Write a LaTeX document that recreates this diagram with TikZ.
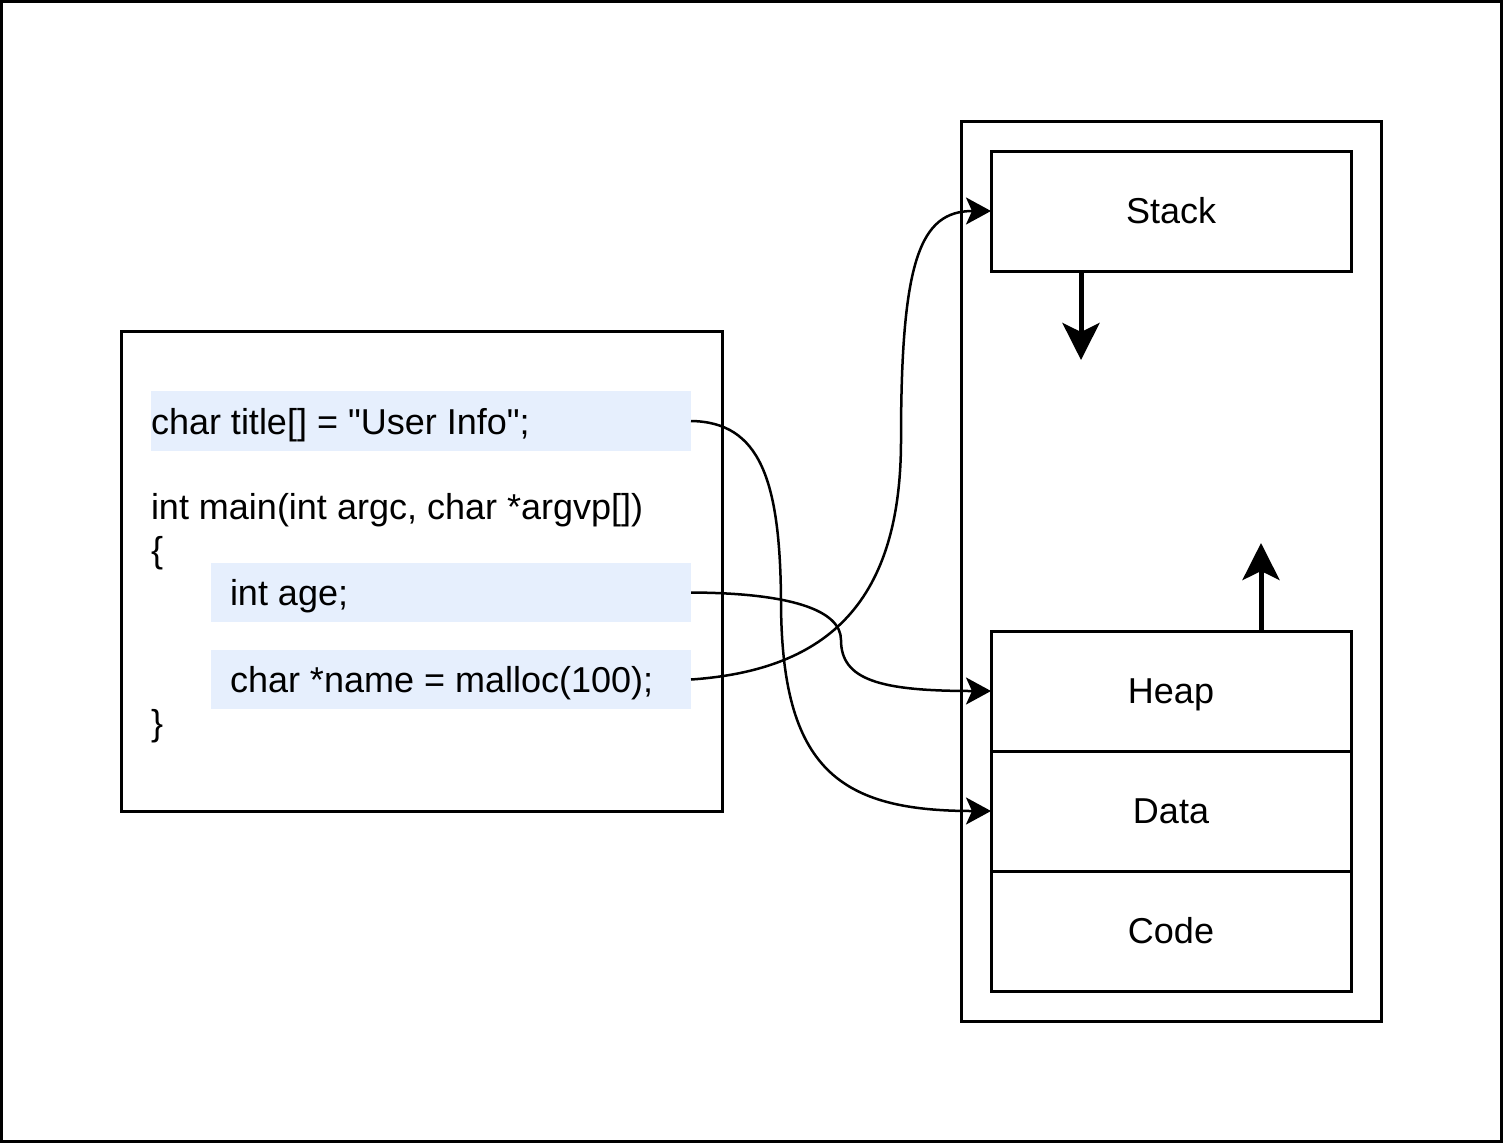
\documentclass[tikz,border=0pt]{standalone}
\usepackage{fontspec}
\newfontfamily\diagfont{Liberation Sans}
\usetikzlibrary{arrows.meta}
\definecolor{hl}{RGB}{230,239,253}
\begin{document}
\begin{tikzpicture}[x=1pt,y=-1pt,
  every node/.style={inner sep=0pt, outer sep=0pt, font=\diagfont\fontsize{36}{42}\selectfont},
  box/.style={draw=black, line width=3pt, fill=white, minimum width=#1, text height=24.5pt, text depth=0pt},
  seg/.style={box=360pt, minimum height=120pt},
  hlbox/.style={fill=hl, minimum width=#1, minimum height=59pt},
  code/.style={anchor=base west},
  conn/.style={draw=black, line width=2.5pt, -{Stealth[length=25pt, width=27pt, inset=6pt]}},
  growarrow/.style={draw=black, line width=5pt, -{Stealth[length=37pt, width=37pt, inset=9pt]}}]
\useasboundingbox (0,0) rectangle (1503,1143);
\node[draw=black, line width=3pt, minimum width=1500pt, minimum height=1140pt] (frame) at (751.5,571.5) {};
% code box
\node[box=601pt, minimum height=480pt] (codebox) at (421.5,571) {};
\node[hlbox=540pt, minimum height=60pt] (title) at (421,421) {};
\node[hlbox=480pt] (age) at (451,592.5) {};
\node[hlbox=480pt] (name) at (451,679.5) {};
\node[code] (t1) at (151,434) {char title[] = "User Info";};
\node[code] (t2) at (151,519) {int main(int argc, char *argvp[])};
\node[code] (t3) at (151,562) {\{};
\node[code] (t4) at (230,605.5) {int age;};
\node[code] (t5) at (230,692.5) {char *name = malloc(100);};
\node[code] (t6) at (151,735) {\}};
% memory
\node[box=420pt, minimum height=900pt] (mem) at (1171,571) {};
\node[seg] (stack) at (1171,211) {Stack};
\node[seg] (heap) at (1171,691) {Heap};
\node[seg] (data) at (1171,811) {Data};
\node[seg] (codeseg) at (1171,931) {Code};
% growth arrows
\coordinate (sdown) at (1081,360);
\coordinate (hup) at (1261,543);
\draw[growarrow] (stack.south -| sdown) -- (sdown);
\draw[growarrow] (heap.north -| hup) -- (hup);
% connectors
\draw[conn] (title.east) .. controls (760,422) and (780,480) .. (781,600) .. controls (781,770) and (840,811) .. (data.west);
\draw[conn] (age.east) .. controls (790,593) and (841,610) .. (841,640) .. controls (841,680) and (880,691) .. (heap.west);
\draw[conn] (name.east) .. controls (830,670) and (901,600) .. (901,440) .. controls (901,260) and (920,211) .. (stack.west);
\end{tikzpicture}
\end{document}
